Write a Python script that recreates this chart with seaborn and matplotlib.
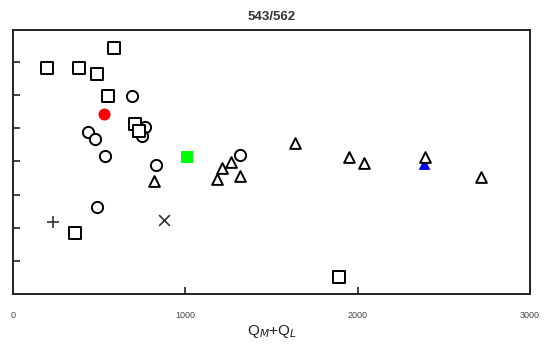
import pandas as pd
import seaborn as sns
import matplotlib.pyplot as plt

# datos (Q_M+Q_L vs eje sin etiquetas)
cuad_x = [587, 198, 384, 488, 552, 709, 733, 360, 1890]
cuad_y = [7.40, 6.80, 6.80, 6.62, 5.96, 5.12, 4.91, 1.84, 0.53]

circ_x = [693, 763, 748, 434, 477, 531, 831, 1316, 486]
circ_y = [5.97, 5.04, 4.76, 4.87, 4.67, 4.17, 3.89, 4.19, 2.64]

tri_x = [816, 1184, 1213, 1262, 1316, 1635, 1949, 2037, 2391, 2717]
tri_y = [3.42, 3.47, 3.81, 3.97, 3.56, 4.56, 4.12, 3.96, 4.14, 3.54]

rojo_x, rojo_y = [531], [5.41]
verde_x, verde_y = [1010], [4.14]
azul_x, azul_y = [2388], [3.92]
mas_x, mas_y = [233], [2.19]
cruz_x, cruz_y = [874], [2.24]

sns.set_style("white")
plt.rcParams['font.family'] = ['Liberation Sans', 'DejaVu Sans']

fig = plt.figure(figsize=(5.45, 3.45), dpi=100)
ax = fig.add_axes([0.0239, 0.1464, 0.9486, 0.7666])

# marcadores rellenos debajo
sns.scatterplot(x=azul_x, y=azul_y, marker='^', s=70, color='#0000ff', edgecolor='none', ax=ax)

abiertos = dict(facecolor='white', edgecolor='black', linewidth=1.4)
sns.scatterplot(x=circ_x, y=circ_y, marker='o', s=65, ax=ax, **abiertos)
sns.scatterplot(x=cuad_x, y=cuad_y, marker='s', s=72, ax=ax, **abiertos)
sns.scatterplot(x=tri_x, y=tri_y, marker='^', s=60, ax=ax, **abiertos)

sns.scatterplot(x=rojo_x, y=rojo_y, marker='o', s=75, color='#ff0000', edgecolor='none', ax=ax)
sns.scatterplot(x=verde_x, y=verde_y, marker='s', s=80, color='#00ff00', edgecolor='none', ax=ax)
ax.scatter(mas_x, mas_y, marker='+', s=80, color='#333333', linewidths=1.2)
ax.scatter(cruz_x, cruz_y, marker='x', s=60, color='#333333', linewidths=1.2)

ax.set_xlim(0, 3000)
ax.set_ylim(0, 7.95)
ax.set_xticks([0, 1000, 2000, 3000])
ax.set_xticklabels(['0', '1000', '2000', '3000'], fontsize=6.5, color='#444444')
ax.set_yticks(range(1, 8))
ax.set_yticklabels([])
ax.tick_params(axis='both', direction='in', length=5, width=1.2, colors='#222222',
               bottom=True, left=True, top=False, right=False)
ax.tick_params(axis='x', labelcolor='#444444', pad=12)

for sp in ax.spines.values():
    sp.set_visible(True)
    sp.set_color('#222222')
    sp.set_linewidth(1.4)

ax.set_title('543/562', fontsize=9.5, fontweight='bold', color='#333333', pad=7)
ax.set_xlabel(r'Q$_M$+Q$_L$', fontsize=11, color='#222222', labelpad=2)
ax.set_ylabel('')

fig.savefig('out.png', dpi=100)
